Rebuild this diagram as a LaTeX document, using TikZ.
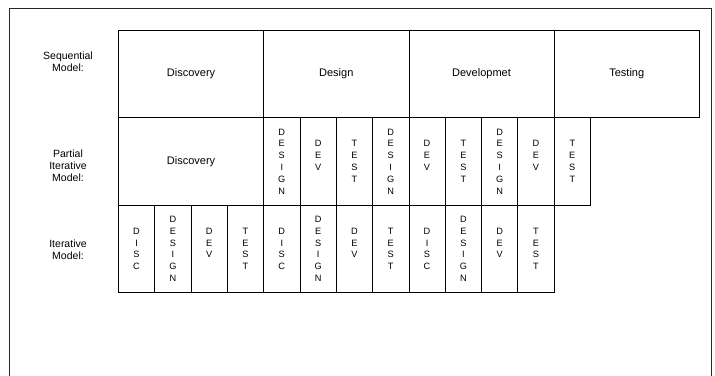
\documentclass[tikz,border=0pt]{standalone}
\usepackage{fontspec}
\setmainfont{Liberation Sans}

\begin{document}
\begin{tikzpicture}[x=1pt, y=-1pt]
          \tikzstyle{phase}=[draw, rectangle, anchor=north west, inner sep=0pt, line width=0.8pt, minimum width=145.25pt, font=\fontsize{11}{12}\selectfont]
          \tikzstyle{slice}=[draw, rectangle, anchor=north west, inner sep=0pt, line width=0.8pt, minimum width=36.31pt, align=center, font=\fontsize{9.2}{11.8}\selectfont]
          \tikzstyle{rowlabel}=[align=center, inner sep=0pt, font=\fontsize{10.5}{11.8}\selectfont]

          \useasboundingbox (0, 0) rectangle (715, 375);
          \draw[line width=0.8pt, black!85] (9, 376) -- (9, 8) -- (711, 8) -- (711, 376);

          % row labels
          \node (seqlabel) at (68, 62) [rowlabel] {Sequential\\Model:};
          \node (partlabel) at (68, 166) [rowlabel] {Partial\\Iterative\\Model:};
          \node (iterlabel) at (68, 249.5) [rowlabel] {Iterative\\Model:};

          % sequential model
          \node (seqdisc) at (118, 30) [phase, minimum height=87pt] {Discovery};
          \node (seqdesign) at (263.25, 30) [phase, minimum height=87pt] {Design};
          \node (seqdev) at (408.5, 30) [phase, minimum height=87pt] {Developmet};
          \node (seqtest) at (553.75, 30) [phase, minimum height=87pt] {Testing};

          % partial iterative model
          \node (partdisc) at (118, 117) [phase, minimum height=88pt] {Discovery};
          \node (partdesigna) at (263.25, 117) [slice, minimum height=88pt] {D\\E\\S\\I\\G\\N};
          \node (partdeva) at (299.56, 117) [slice, minimum height=88pt] {D\\E\\V\\\mbox{}};
          \node (parttesta) at (335.88, 117) [slice, minimum height=88pt] {T\\E\\S\\T};
          \node (partdesignb) at (372.19, 117) [slice, minimum height=88pt] {D\\E\\S\\I\\G\\N};
          \node (partdevb) at (408.5, 117) [slice, minimum height=88pt] {D\\E\\V\\\mbox{}};
          \node (parttestb) at (444.81, 117) [slice, minimum height=88pt] {T\\E\\S\\T};
          \node (partdesignc) at (481.13, 117) [slice, minimum height=88pt] {D\\E\\S\\I\\G\\N};
          \node (partdevc) at (517.44, 117) [slice, minimum height=88pt] {D\\E\\V\\\mbox{}};
          \node (parttestc) at (553.75, 117) [slice, minimum height=88pt] {T\\E\\S\\T};

          % iterative model
          \node (iterdisca) at (118, 205) [slice, minimum height=87pt] {D\\I\\S\\C};
          \node (iterdesigna) at (154.31, 205) [slice, minimum height=87pt] {D\\E\\S\\I\\G\\N};
          \node (iterdeva) at (190.63, 205) [slice, minimum height=87pt] {D\\E\\V\\\mbox{}};
          \node (itertesta) at (226.94, 205) [slice, minimum height=87pt] {T\\E\\S\\T};
          \node (iterdiscb) at (263.25, 205) [slice, minimum height=87pt] {D\\I\\S\\C};
          \node (iterdesignb) at (299.56, 205) [slice, minimum height=87pt] {D\\E\\S\\I\\G\\N};
          \node (iterdevb) at (335.88, 205) [slice, minimum height=87pt] {D\\E\\V\\\mbox{}};
          \node (itertestb) at (372.19, 205) [slice, minimum height=87pt] {T\\E\\S\\T};
          \node (iterdiscc) at (408.5, 205) [slice, minimum height=87pt] {D\\I\\S\\C};
          \node (iterdesignc) at (444.81, 205) [slice, minimum height=87pt] {D\\E\\S\\I\\G\\N};
          \node (iterdevc) at (481.13, 205) [slice, minimum height=87pt] {D\\E\\V\\\mbox{}};
          \node (itertestc) at (517.44, 205) [slice, minimum height=87pt] {T\\E\\S\\T};
        \end{tikzpicture}
\end{document}
